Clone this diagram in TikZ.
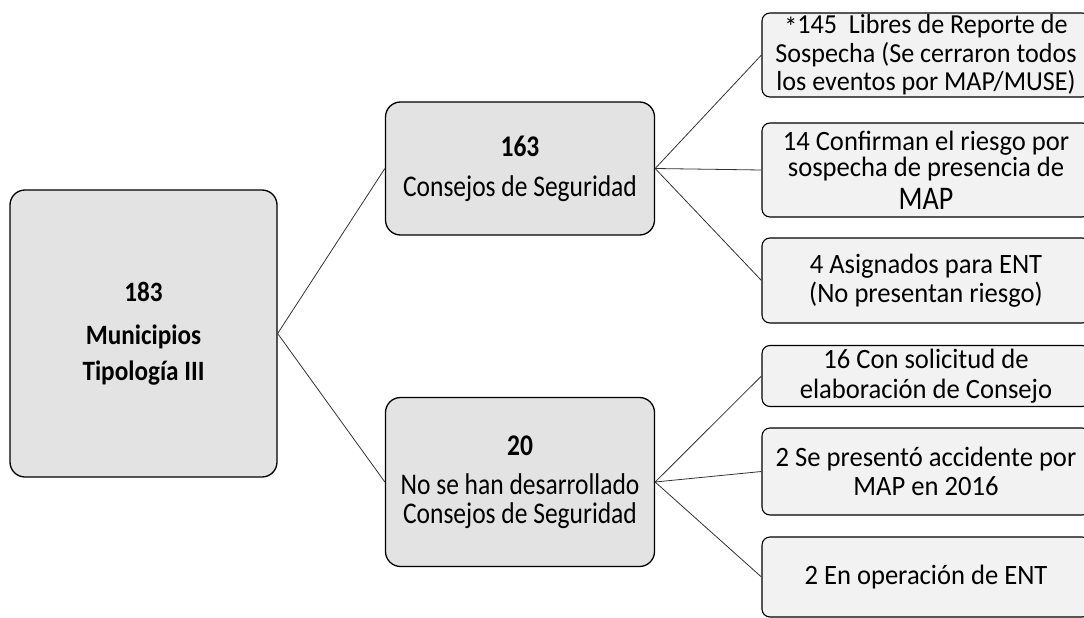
\documentclass[tikz,border=0pt]{standalone}
\usepackage{fontspec}
\setmainfont{Carlito}[FakeStretch=0.95]
\newfontfamily\midfont{Carlito}[FakeStretch=0.85]
\newfontfamily\rootfont{Carlito}[FakeStretch=0.9]
\begin{document}
\begin{tikzpicture}[x=1pt,y=-1pt,
  bigbox/.style={draw=black,line width=1.3pt,rounded corners=15pt,fill=gray!22,inner sep=0pt,align=center},
  leafbox/.style={draw=black,line width=1.1pt,rounded corners=8pt,fill=gray!10,inner sep=0pt,align=center,
    minimum width=328pt,font=\fontsize{28}{29.5}\selectfont},
  link/.style={draw=black!80,line width=0.8pt}]
\useasboundingbox (0,0) rectangle (1084,618);
\node[bigbox,minimum width=267pt,minimum height=287pt,font=\rootfont\fontsize{28}{36}\selectfont] (root) at (143.5,333.5)
  {\textbf{183}\\[7pt]\textbf{Municipios}\\\textbf{Tipología III}};
\node[bigbox,minimum width=269pt,minimum height=133pt,font=\midfont\fontsize{30}{29}\selectfont] (m1) at (520,168.5)
  {\textbf{163}\\[11pt]Consejos de Seguridad};
\node[bigbox,minimum width=269pt,minimum height=169pt,font=\midfont\fontsize{30}{29}\selectfont] (m2) at (520,482)
  {\textbf{20}\\[10pt]No se han desarrollado\\Consejos de Seguridad};
\node[leafbox,minimum height=84pt,font=\fontsize{27.5}{28.5}\selectfont] (r1) at (926,55)
  {\raisebox{-3pt}{*}145\ \ Libres de Reporte de\\Sospecha (Se cerraron todos\\los eventos por MAP/MUSE)};
\node[leafbox,minimum height=94pt] (r2) at (926,170)
  {14 Confirman el riesgo por\\[-3pt]sospecha de presencia de\\[3pt]{\midfont\fontsize{33}{33}\selectfont MAP}};
\node[leafbox,minimum height=85pt] (r3) at (926,280.5)
  {4 Asignados para ENT\\(No presentan riesgo)};
\node[leafbox,minimum height=61pt] (r4) at (926,376)
  {16 Con solicitud de\\elaboración de Consejo};
\node[leafbox,minimum height=87pt] (r5) at (926,471.5)
  {2\ Se presentó accidente por\\MAP en 2016};
\node[leafbox,minimum height=80pt] (r6) at (926,577)
  {2 En operación de ENT};
\draw[link] (root.east) -- (m1.west);
\draw[link] (root.east) -- (m2.west);
\draw[link] (m1.east) -- (r1.west);
\draw[link] (m1.east) -- (r2.west);
\draw[link] (m1.east) -- (r3.west);
\draw[link] (m2.east) -- (r4.west);
\draw[link] (m2.east) -- (r5.west);
\draw[link] (m2.east) -- (r6.west);
\end{tikzpicture}
\end{document}
